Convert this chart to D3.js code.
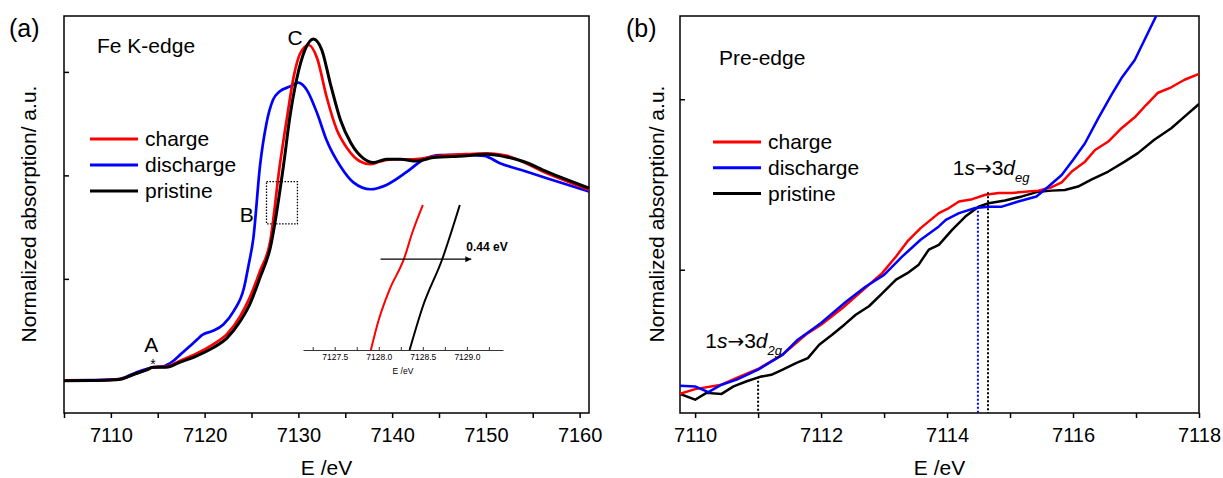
<!DOCTYPE html>
<html>
<head>
<meta charset="utf-8">
<script src="https://cdn.jsdelivr.net/npm/d3@7"></script>
<style>
  body { margin: 0; background: #fff; }
  svg { display: block; font-family: "Liberation Sans", Arial, Helvetica, sans-serif; }
</style>
</head>
<body>
<svg id="chart" width="1223" height="478"></svg>
<script>
// ---------- data ----------
const seriesNames = ["charge", "discharge", "pristine"];
const seriesColors = ["#ff0000", "#0000ff", "#000000"];

// (a) Fe K-edge, [E (eV), normalized absorption]
const chargeK = [[7105,0.008],[7108,0.009],[7110,0.012],[7111,0.016],[7112.4,0.038],[7113.8,0.06],[7114.5,0.073],
  [7115.9,0.076],[7117.4,0.105],[7119.1,0.138],[7120.9,0.183],[7122.4,0.234],[7123.8,0.32],[7124.8,0.408],
  [7125.9,0.537],[7127.0,0.682],[7128.0,1.043],[7128.8,1.284],[7129.5,1.477],[7130.2,1.59],[7131.1,1.63],
  [7132.0,1.566],[7133.0,1.381],[7134.1,1.22],[7135.2,1.131],[7136.6,1.067],[7137.7,1.054],[7138.7,1.067],
  [7140.1,1.078],[7142.3,1.078],[7144.4,1.091],[7148.7,1.104],[7150.1,1.107],[7152.3,1.094],[7156.5,1.01],[7161,0.93]];
const dischargeK = [[7105,0.010],[7108,0.011],[7110,0.013],[7111,0.017],[7112.4,0.042],[7113.8,0.064],[7114.5,0.073],
  [7115.5,0.077],[7116.6,0.102],[7117.4,0.134],[7118.8,0.19],[7119.8,0.231],[7120.9,0.249],[7122.0,0.28],
  [7123.1,0.344],[7124.2,0.457],[7124.7,0.569],[7125.2,0.697],[7125.9,1.043],[7126.6,1.252],[7127.3,1.365],
  [7128.0,1.405],[7129.1,1.429],[7130.0,1.448],[7130.9,1.413],[7132.0,1.30],[7133.0,1.171],[7134.5,1.043],
  [7135.9,0.965],[7137.7,0.933],[7139.4,0.954],[7141.6,1.018],[7143.4,1.078],[7145.1,1.098],[7147.6,1.099],
  [7149.8,1.094],[7151.5,1.059],[7153.7,1.027],[7156.5,0.986],[7161,0.922]];
const pristineK = [[7105,0.008],[7108,0.009],[7110,0.011],[7111,0.015],[7112.4,0.038],[7113.8,0.06],[7114.5,0.073],
  [7115.9,0.073],[7117.4,0.098],[7119.1,0.127],[7120.9,0.167],[7122.4,0.215],[7123.8,0.296],[7124.8,0.376],
  [7125.9,0.505],[7127.0,0.65],[7128.4,1.043],[7129.1,1.284],[7129.8,1.461],[7130.7,1.606],
  [7131.6,1.659],[7132.5,1.606],[7133.4,1.445],[7134.5,1.266],[7135.6,1.156],[7136.9,1.083],[7138.0,1.062],
  [7139.4,1.078],[7140.9,1.078],[7142.6,1.069],[7144.4,1.086],[7147.6,1.094],[7150.1,1.102],[7152.3,1.088],
  [7154.0,1.067],[7156.5,1.018],[7158.7,0.978],[7161,0.938]];

// inset: zoom of the edge (box B)
const chargeInset = [[7127.91,0.72],[7128.0,0.768],[7128.12,0.815],[7128.29,0.866],[7128.38,0.906],[7128.5,0.95]];
const pristineInset = [[7128.35,0.72],[7128.5,0.789],[7128.72,0.864],[7128.92,0.95]];
const insetTicks = [7127.5, 7128.0, 7128.5, 7129.0];
const shiftArrow = [7128.02, 7129.05];
const shiftLevel = 0.864;
const shiftLabel = "0.44 eV";
const zoomBoxE = [7126.6, 7129.9];
const zoomBoxV = [0.766, 0.97];

// (b) pre-edge
const chargePre = [[7109.76,0.0136],[7110.0,0.0150],[7110.42,0.0163],[7110.66,0.0183],[7111.0,0.0209],[7111.39,0.0251],
  [7111.76,0.0310],[7112.0,0.0339],[7112.34,0.0388],[7112.61,0.0432],[7112.97,0.0490],[7113.19,0.0539],[7113.37,0.0583],
  [7113.58,0.0622],[7113.87,0.0666],[7114.03,0.0681],[7114.19,0.0700],[7114.40,0.0707],[7114.61,0.0720],[7114.82,0.0725],
  [7115.03,0.0725],[7115.24,0.0729],[7115.45,0.0732],[7115.66,0.0742],[7115.82,0.0756],[7115.98,0.0788],[7116.19,0.0817],
  [7116.35,0.0851],[7116.56,0.0876],[7116.77,0.0915],[7116.98,0.0947],[7117.16,0.0983],[7117.35,0.1019],[7117.56,0.1035],
  [7117.77,0.1057],[7118.0,0.1074]];
const dischargePre = [[7109.76,0.0160],[7110.0,0.0158],[7110.21,0.0141],[7110.42,0.0163],[7110.66,0.0178],[7111.0,0.0207],
  [7111.39,0.0251],[7111.63,0.0295],[7112.0,0.0344],[7112.40,0.0407],[7112.71,0.0451],[7113.0,0.0485],[7113.29,0.0539],
  [7113.58,0.0588],[7113.87,0.0627],[7113.98,0.0646],[7114.19,0.0666],[7114.45,0.0681],[7114.66,0.0685],[7114.87,0.0685],
  [7115.13,0.0700],[7115.42,0.0715],[7115.61,0.0744],[7115.82,0.0778],[7116.0,0.0822],[7116.19,0.0871],[7116.40,0.0944],
  [7116.61,0.1013],[7116.77,0.1062],[7116.98,0.1115],[7117.14,0.1176],[7117.32,0.1244],[7117.45,0.129]];
const pristinePre = [[7109.76,0.0136],[7110.0,0.0119],[7110.18,0.0139],[7110.42,0.0136],[7110.61,0.0158],[7110.82,0.0173],
  [7111.03,0.0186],[7111.21,0.0192],[7111.39,0.0207],[7111.61,0.0227],[7111.79,0.0241],[7111.97,0.0280],[7112.18,0.0310],
  [7112.37,0.0339],[7112.55,0.0368],[7112.76,0.0393],[7112.95,0.0427],[7113.19,0.0471],[7113.37,0.0490],[7113.55,0.0515],
  [7113.71,0.0559],[7113.87,0.0573],[7114.08,0.0617],[7114.29,0.0656],[7114.50,0.0685],[7114.66,0.0695],[7114.92,0.0703],
  [7115.19,0.0715],[7115.45,0.0729],[7115.66,0.0732],[7115.87,0.0734],[7116.08,0.0744],[7116.29,0.0764],[7116.56,0.0788],
  [7116.82,0.0817],[7117.03,0.0842],[7117.29,0.0881],[7117.56,0.0915],[7117.77,0.0949],[7118.0,0.0986]];

// dotted markers in (b): [E, top value, colour index]
const preEdgeMarkers = [[7111.0, 0.0186, 2], [7114.49, 0.0685, 1], [7114.65, 0.0727, 2]];

// ---------- drawing ----------
const svg = d3.select("#chart");

const xA = d3.scaleLinear().domain([7105, 7161]).range([64, 589]);
const yA = d3.scaleLinear().domain([-0.148, 1.77]).range([413, 16]);
const xB = d3.scaleLinear().domain([7109.76, 7118]).range([680, 1199]);
const yB = d3.scaleLinear().domain([0.008, 0.1244]).range([413, 16]);

svg.append("defs").append("clipPath").attr("id", "clipB")
  .append("rect").attr("x", 680).attr("y", 16).attr("width", 519).attr("height", 397);

function frame(x, y) {
  svg.append("rect")
    .attr("x", x.range()[0]).attr("y", y.range()[1])
    .attr("width", x.range()[1] - x.range()[0])
    .attr("height", y.range()[0] - y.range()[1])
    .attr("fill", "none").attr("stroke", "#000").attr("stroke-width", 1.5);
}

function axes(x, y, xticks, labelEvery, yticks) {
  const gx = svg.append("g")
    .attr("transform", `translate(0,${y.range()[0]})`)
    .call(d3.axisBottom(x).tickValues(xticks)
      .tickFormat(d => (Math.abs(d / labelEvery - Math.round(d / labelEvery)) < 1e-6 ? d : ""))
      .tickSizeInner(5).tickSizeOuter(0).tickPadding(10));
  gx.attr("font-family", null).attr("font-size", 20);
  gx.select(".domain").remove();
  gx.selectAll("line").attr("stroke-width", 1.5);

  const gy = svg.append("g")
    .attr("transform", `translate(${x.range()[0]},0)`)
    .call(d3.axisLeft(y).tickValues(yticks).tickFormat("").tickSizeInner(-5).tickSizeOuter(0));
  gy.select(".domain").remove();
  gy.selectAll("line").attr("stroke-width", 1.5);
}

function legend(x0, y0, gap) {
  seriesNames.forEach((name, i) => {
    svg.append("line")
      .attr("x1", x0).attr("x2", x0 + 48)
      .attr("y1", y0 + i * gap).attr("y2", y0 + i * gap)
      .attr("stroke", seriesColors[i]).attr("stroke-width", 3);
    svg.append("text")
      .attr("x", x0 + 55).attr("y", y0 + i * gap + 7)
      .attr("font-size", 21).text(name);
  });
}

function axisTitles(x, cx, tag, tagX) {
  const mid = (x.range()[0] + x.range()[1]) / 2;
  svg.append("text").attr("x", mid).attr("y", 475).attr("text-anchor", "middle")
    .attr("font-size", 21).text("E /eV");
  svg.append("text").attr("transform", `translate(${cx},214) rotate(-90)`)
    .attr("text-anchor", "middle").attr("font-size", 21).text("Normalized absorption/ a.u.");
  svg.append("text").attr("x", tagX).attr("y", 37).attr("font-size", 25).text(tag);
}

// ---- panel (a) ----
axes(xA, yA, d3.range(7105, 7161, 5), 10, [0.5, 1.0, 1.5]);
frame(xA, yA);
axisTitles(xA, 36, "(a)", 9);

const lineA = d3.line().x(d => xA(d[0])).y(d => yA(d[1])).curve(d3.curveMonotoneX);
const kSeries = [chargeK, dischargeK, pristineK];
[1, 0, 2].forEach(i => {
  svg.append("path").datum(kSeries[i])
    .attr("d", lineA).attr("fill", "none")
    .attr("stroke", seriesColors[i]).attr("stroke-width", i === 2 ? 3 : 2.7)
    .attr("stroke-linejoin", "round");
});

svg.append("text").attr("x", 97).attr("y", 53).attr("font-size", 21).text("Fe K-edge");
legend(90, 139, 26);

// A, B, C marks
svg.append("text").attr("x", xA(7114.3)).attr("y", yA(0.18)).attr("dy", "0.35em")
  .attr("text-anchor", "middle").attr("font-size", 21).text("A");
svg.append("text").attr("x", xA(7114.5)).attr("y", yA(0.073)).attr("dy", "0.1em")
  .attr("text-anchor", "middle").attr("font-size", 14).text("*");
svg.append("text").attr("x", xA(7124.5)).attr("y", yA(0.81)).attr("dy", "0.35em")
  .attr("text-anchor", "middle").attr("font-size", 21).text("B");
svg.append("text").attr("x", xA(7129.65)).attr("y", yA(1.665)).attr("dy", "0.35em")
  .attr("text-anchor", "middle").attr("font-size", 21).text("C");

// dotted box around B
svg.append("rect")
  .attr("x", xA(zoomBoxE[0])).attr("y", yA(zoomBoxV[1]))
  .attr("width", xA(zoomBoxE[1]) - xA(zoomBoxE[0]))
  .attr("height", yA(zoomBoxV[0]) - yA(zoomBoxV[1]))
  .attr("fill", "none").attr("stroke", "#000").attr("stroke-width", 1.3)
  .attr("stroke-dasharray", "1.5,1.5");

// inset
const xI = d3.scaleLinear().domain([7127.14, 7129.41]).range([303, 503]);
const yI = d3.scaleLinear().domain([0.72, 0.95]).range([350, 205]);
const gi = svg.append("g").attr("transform", "translate(0,350)")
  .call(d3.axisBottom(xI).tickValues(d3.range(7127.25, 7129.4, 0.25))
    .tickFormat(d => (insetTicks.includes(+d.toFixed(2)) ? d3.format(".1f")(d) : ""))
    .tickSizeInner(-3).tickSizeOuter(0).tickPadding(4));
gi.attr("font-family", null).attr("font-size", 8.5);
gi.select(".domain").attr("stroke-width", 0.8);
gi.selectAll("line").attr("stroke-width", 0.8);
svg.append("text").attr("x", (xI.range()[0] + xI.range()[1]) / 2).attr("y", 374)
  .attr("text-anchor", "middle").attr("font-size", 8.5).text("E /eV");

const lineI = d3.line().x(d => xI(d[0])).y(d => yI(d[1])).curve(d3.curveMonotoneX);
[[chargeInset, 0], [pristineInset, 2]].forEach(([data, i]) => {
  svg.append("path").datum(data).attr("d", lineI).attr("fill", "none")
    .attr("stroke", seriesColors[i]).attr("stroke-width", 2);
});

svg.select("defs").append("marker").attr("id", "arrow")
  .attr("viewBox", "0 0 10 10").attr("refX", 10).attr("refY", 5)
  .attr("markerWidth", 9).attr("markerHeight", 6).attr("markerUnits", "userSpaceOnUse")
  .attr("orient", "auto")
  .append("path").attr("d", "M0,0L10,5L0,10z").attr("fill", "#000");
svg.append("line")
  .attr("x1", xI(shiftArrow[0])).attr("x2", xI(shiftArrow[1]))
  .attr("y1", yI(shiftLevel)).attr("y2", yI(shiftLevel))
  .attr("stroke", "#000").attr("stroke-width", 1.3).attr("marker-end", "url(#arrow)");
svg.append("text").attr("x", xI(shiftArrow[1]) - 5).attr("y", yI(shiftLevel) - 8)
  .attr("font-size", 12).attr("font-weight", "bold").text(shiftLabel);

// ---- panel (b) ----
axes(xB, yB, d3.range(7110, 7118.5, 1), 2, [0.05, 0.10]);
frame(xB, yB);
axisTitles(xB, 664, "(b)", 626);

const lineB = d3.line().x(d => xB(d[0])).y(d => yB(d[1]));
const preSeries = [chargePre, dischargePre, pristinePre];
const gB = svg.append("g").attr("clip-path", "url(#clipB)");
[2, 0, 1].forEach(i => {
  gB.append("path").datum(preSeries[i])
    .attr("d", lineB).attr("fill", "none")
    .attr("stroke", seriesColors[i]).attr("stroke-width", 2.5)
    .attr("stroke-linejoin", "round");
});

preEdgeMarkers.forEach(([e, top, ci]) => {
  svg.append("line")
    .attr("x1", xB(e)).attr("x2", xB(e))
    .attr("y1", yB(top)).attr("y2", yB.range()[0])
    .attr("stroke", seriesColors[ci]).attr("stroke-width", 2)
    .attr("stroke-dasharray", "2,2");
});

svg.append("text").attr("x", 719).attr("y", 65).attr("font-size", 21).text("Pre-edge");
legend(713, 142, 25.8);

function transition(x, y, sub) {
  const t = svg.append("text").attr("x", x).attr("y", y).attr("font-size", 21);
  t.append("tspan").text("1");
  t.append("tspan").attr("font-style", "italic").text("s");
  t.append("tspan").attr("font-family", "DejaVu Sans").attr("font-size", 20).text("\u2192");
  t.append("tspan").text("3");
  t.append("tspan").attr("font-style", "italic").text("d");
  t.append("tspan").attr("font-style", "italic").attr("font-size", 13).attr("dy", 7).text(sub);
}
transition(xB(7114.09), yB(0.0778), "eg");
transition(xB(7110.16), yB(0.0271), "2g");
</script>
</body>
</html>
